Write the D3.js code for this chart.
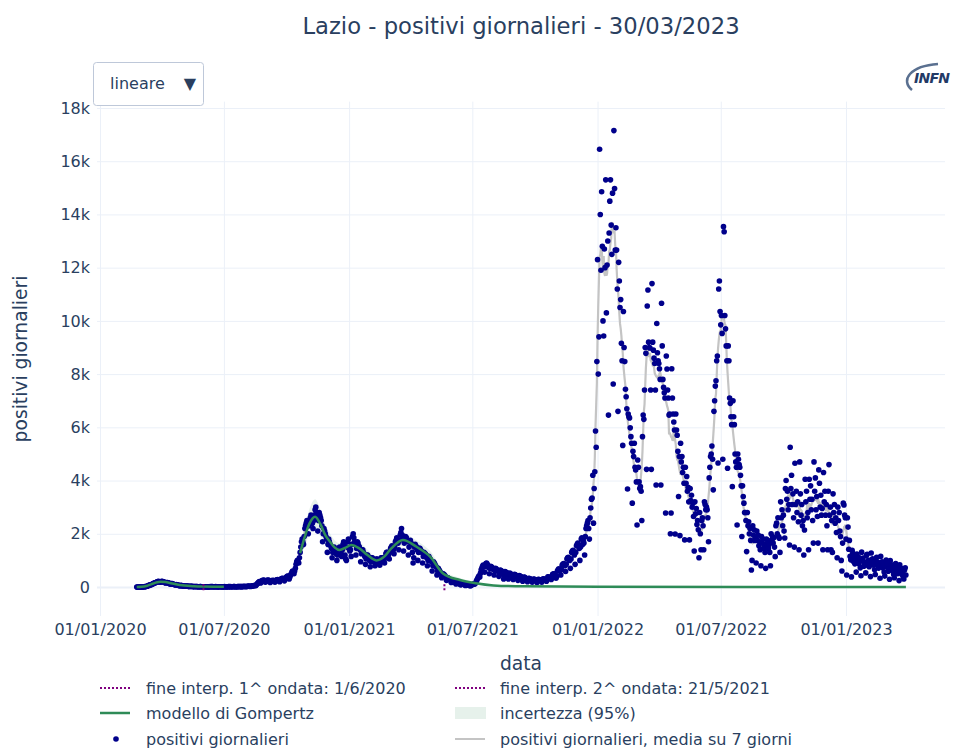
<!DOCTYPE html>
<html><head><meta charset="utf-8">
<script src="https://cdn.jsdelivr.net/npm/d3@7"></script>
<style>body{margin:0;background:#fff}</style>
</head><body>
<svg id="chart" width="954" height="753"></svg>
<script>
// ---------------- DATA ----------------
const startDate = "2020-02-24"; // first day of daily series (Monday)
// daily new positives, one row = one week (Mon..Sun)
const pos2020 = [
0,0,0,0,1,0,3,
4,3,6,10,8,13,15,
20,28,35,52,60,72,80,
85,95,110,125,140,150,160,
170,180,195,200,210,190,185,
180,200,210,205,195,185,175,
150,160,170,165,155,145,135,
115,110,125,130,115,105,95,
85,75,90,85,75,65,60,
50,45,60,55,48,42,38,
32,28,38,40,33,28,24,
22,18,26,30,22,18,16,
15,12,20,20,16,12,11,
10,9,15,13,11,9,8,
7,6,10,9,7,6,5,
6,5,9,12,8,16,13,
9,7,11,9,13,9,7,
6,5,9,11,9,7,6,
7,6,11,13,9,7,6,
9,11,13,15,11,13,9,
11,9,16,13,15,11,9,
11,13,19,16,21,16,13,
13,16,21,19,26,21,16,
16,19,26,31,29,26,21,
26,31,42,47,52,57,47,
60,90,120,150,180,200,170,
150,200,240,230,260,250,210,
180,220,250,240,260,250,220,
170,210,240,230,250,240,220,
180,220,260,270,280,270,250,
200,250,300,320,330,320,290,
230,290,350,370,400,410,380,
300,380,450,500,560,600,580,
500,600,700,850,950,1000,950,
900,1100,1300,1500,1700,1800,1700,
1600,1900,2200,2300,2400,2500,2300,
2000,2300,2500,2600,2700,2600,2400,
2200,2500,2700,2900,3000,2800,2600,
2100,2500,2800,2700,2600,2500,2300,
1700,2000,2200,2100,2000,1900,1800,
1300,1600,1800,1700,1600,1550,1450,
1100,1300,1450,1500,1400,1350,1250,
1000,1200,1400,1450,1500,1400,1300,
1150,1400,1600,1700,1550,1200,1050
];
const pos2021 = [
1000,1500,1700,1800,1450,1350,1400,
1150,1600,1900,2000,1850,1700,1600,
1200,1450,1700,1650,1550,1500,1400,
950,1250,1400,1400,1300,1250,1150,
850,1050,1200,1200,1150,1100,1000,
760,950,1100,1100,1050,1000,950,
800,900,1050,1050,1000,950,900,
820,950,1100,1100,1100,1050,1000,
900,1100,1250,1300,1300,1250,1200,
1050,1300,1450,1500,1550,1500,1400,
1250,1500,1700,1750,1850,1750,1650,
1400,1750,1950,2050,2200,1950,1800,
1350,1650,1800,1900,1850,1750,1700,
1200,1500,1700,1750,1650,1600,1300,
900,1100,1500,1600,1550,1500,1400,
1000,1300,1450,1450,1400,1350,1300,
900,1150,1300,1250,1250,1200,1100,
800,1000,1150,1100,1050,1000,950,
600,800,950,900,850,800,750,
450,600,700,650,600,550,500,
350,420,500,480,450,400,380,
250,300,350,330,300,280,250,
170,220,250,230,200,190,170,
110,140,160,150,140,120,110,
80,100,120,110,100,90,80,
55,70,90,80,80,70,60,
50,60,80,90,100,110,110,
120,160,220,280,330,380,420,
380,520,650,700,780,820,760,
560,780,880,900,850,800,720,
500,700,780,760,730,700,650,
450,620,700,680,650,620,580,
400,560,640,620,600,560,480,
300,400,580,560,540,520,480,
300,440,520,500,480,460,430,
280,400,480,460,440,420,390,
250,350,430,410,390,370,340,
220,300,370,360,340,320,300,
200,260,330,320,300,290,270,
180,240,300,290,280,270,250,
170,230,290,280,270,260,240,
180,250,310,300,290,280,260,
220,300,380,370,360,350,320,
280,380,480,490,500,480,440,
330,400,600,650,680,660,620,
450,650,820,850,880,860,800,
580,850,1050,1100,1120,1080,1000,
700,1050,1300,1350,1380,1320,1200,
850,1300,1550,1600,1650,1550,1450,
1000,1500,1800,1850,1600,1750,1650,
1200,1900,2200,2300,2400,2500,2200,
1800,2600,2970,3300,3340,4200,2400
];
const pos2022 = [
3700,4330,5860,5250,8470,12300,8000,
9400,16450,14000,11900,14850,12800,10000,
9430,12700,12000,15300,10300,12100,13000,
6460,13300,14500,15300,13600,12500,14800,
7630,17150,14970,12660,13500,12660,11200,
6600,12200,11500,10500,10800,9160,8500,
5320,10350,9000,8470,7430,7150,6700,
3680,6500,6400,6350,5980,5650,5400,
3150,5100,4900,5400,4500,4400,3950,
2330,4770,4500,3950,3700,3770,3600,
2500,5650,6460,6300,7400,9000,8780,
4420,10560,11160,9200,9000,8980,7400,
4420,11400,9200,8900,8600,8400,7400,
3830,9900,8800,8500,8400,8200,7800,
3830,10660,9060,7800,7500,7300,7100,
2780,8680,8190,7400,7100,6460,6500,
2000,2780,8200,7100,6500,6200,5900,
1990,6500,5900,5700,5100,3400,4900,
1930,5400,4700,4900,4300,4500,3900,
1770,4500,3900,4150,3600,3750,3200,
1770,3700,3250,3450,3000,3150,2650,
1350,3200,2750,2950,2350,2500,2150,
1100,2800,2000,1400,2500,2600,2300,
1400,3200,3100,2900,3000,2900,2600,
1700,4100,4500,4900,5000,5300,4800,
3650,6600,7000,7550,7750,8500,8680,
4660,11200,11500,10350,9850,10200,9530,
4800,13540,13350,10200,9700,9060,8500,
4460,9060,8500,7100,6900,6400,6100,
3770,7000,6400,6100,5000,4700,4500,
2330,5000,4800,4600,4500,4200,3800,
1900,3800,3400,3150,2800,2800,2500,
1330,2800,2300,2450,2000,2200,1750,
640,1000,2300,1950,2150,1750,1850,
900,2100,1750,1950,1550,1700,1400,
800,1900,1650,1800,1450,1600,1300,
700,1800,1550,1750,1450,1600,1300,
800,2000,1750,1900,1650,1850,1500,
1140,2300,2400,2000,2600,1900,1830,
1300,3200,2600,2900,2300,2700,2100,
1840,3700,4000,3300,3600,2900,3100,
1580,5250,3700,4200,3100,3500,2600,
1500,4650,3100,3600,2800,3200,2450,
1400,4700,3500,2700,3100,2300,2500,
1200,2140,4050,3200,3600,2600,2800,
1400,4050,3300,3800,2900,3300,2500,
1650,4700,3600,4100,2900,3400,2650,
1650,4400,3900,3000,3450,2700,2950,
1400,4300,3200,3600,2700,3100,2300,
1400,3600,4600,2700,3000,1400,2500,
1300,3500,2800,3100,2400,2600,2050,
1100,3000,2500,2800,2100,1900,1000
];
const pos2023 = [
600,1650,3150,3080,2700,2600,1800,
450,2600,2250,1420,1750,1150,1020,
380,1380,1270,960,1150,870,930,
560,1240,1020,1130,870,990,720,
420,1310,980,1090,780,940,810,
530,1190,1230,880,1010,760,850,
390,1280,960,1060,820,900,650,
470,1060,1120,830,930,710,780,
330,1150,870,950,720,820,560,
410,940,1010,740,860,590,680,
290,990,760,830,610,700,470,
350,820,880,640,720,500,560,
240,830,610,700,480,560,380,
300,640,720,450
];
// Gompertz model, 1st wave
const gomp1Dates = ["2020-02-24","2020-03-02","2020-03-09","2020-03-16","2020-03-23","2020-03-30","2020-04-06","2020-04-13","2020-04-20","2020-04-27","2020-05-04","2020-05-18","2020-06-01","2020-06-15","2020-07-01"];
const gomp1Vals  = [0,8,35,100,165,200,185,150,110,78,54,29,16,9,5];
// Gompertz model, 2nd wave (and tail) with 95% band
const gomp2Dates = ["2020-10-21","2020-10-28","2020-11-04","2020-11-12","2020-11-20","2020-11-27","2020-12-04","2020-12-11","2020-12-18","2020-12-27","2021-01-04","2021-01-16","2021-01-28","2021-02-10","2021-02-22","2021-03-04","2021-03-21","2021-04-10","2021-04-30","2021-05-19","2021-06-13","2021-07-06","2021-08-01","2021-09-15","2022-01-01","2023-03-30"];
const gomp2Vals  = [1270,1900,2400,2640,2350,1950,1700,1480,1390,1480,1580,1450,1200,1000,1150,1450,1770,1510,1140,510,260,140,60,25,10,0];
const bandLow    = [1050,1550,1950,2150,1900,1600,1420,1230,1150,1230,1320,1220,1000,850,1000,1260,1550,1300,950,380,190,100,40,12,5,0];
const bandHigh   = [1500,2300,2950,3300,2900,2350,2000,1750,1650,1750,1850,1700,1400,1150,1300,1650,2000,1750,1350,650,340,190,90,40,15,0];
// end of interpolation windows
const fineDates = ["2020-06-01","2021-05-21"];
const yTicks = [0,2000,4000,6000,8000,10000,12000,14000,16000,18000];
const xTicks = ["2020-01-01","2020-07-01","2021-01-01","2021-07-01","2022-01-01","2022-07-01","2023-01-01"];
const legendLabels = ["fine interp. 1^ ondata: 1/6/2020","fine interp. 2^ ondata: 21/5/2021","modello di Gompertz","incertezza (95%)","positivi giornalieri","positivi giornalieri, media su 7 giorni"];

// ---------------- CHART ----------------
const FONT = '"DejaVu Sans", sans-serif';
const TXT = "#2a3f5f", GRID = "#ebf0f8";
const svg = d3.select("#chart").style("font-family", FONT);
const L = 97, R = 945, T = 101.6, B = 616;
const parse = d3.utcParse("%Y-%m-%d");

const xCal = d3.scaleUtc().domain([parse("2020-01-01"), parse("2023-01-01")]).range([100, 846]);
const x = d3.scaleUtc().domain([xCal.invert(L), xCal.invert(R)]).range([L, R]);
const y = d3.scaleLinear().domain([-1090, 18240]).range([B, T]);

const t0 = parse(startDate);
const daily = [].concat(pos2020, pos2021, pos2022, pos2023);
const data = daily.map((v, i) => ({date: d3.utcDay.offset(t0, i), v}));
const avg7 = [];
for (let i = 3; i < data.length - 3; i++) avg7.push({date: data[i].date, v: d3.mean(data.slice(i - 3, i + 4), e => e.v)});

// axes + grid
const fmtY = d => d === 0 ? "0" : (d / 1000) + "k";
const gy = svg.append("g").attr("transform", `translate(${L},0)`)
  .call(d3.axisLeft(y).tickValues(yTicks).tickSize(-(R - L)).tickPadding(7).tickFormat(fmtY));
const gx = svg.append("g").attr("transform", `translate(0,${B})`)
  .call(d3.axisBottom(x).tickValues(xTicks.map(parse)).tickSize(-(B - T)).tickPadding(8).tickFormat(d3.utcFormat("%d/%m/%Y")));
[gx, gy].forEach(g => {
  g.select(".domain").remove();
  g.selectAll(".tick line").attr("stroke", GRID).attr("stroke-width", 1);
  g.selectAll(".tick text").attr("fill", TXT).attr("font-size", 16).attr("font-family", FONT);
});
gy.selectAll(".tick").filter(d => d === 0).select("line").attr("stroke-width", 2);

svg.append("clipPath").attr("id", "clip").append("rect").attr("x", L).attr("y", T).attr("width", R - L).attr("height", B - T);
const plot = svg.append("g").attr("clip-path", "url(#clip)");

// uncertainty band
const bandData = gomp2Dates.map((d, i) => ({date: parse(d), lo: bandLow[i], hi: bandHigh[i]}));
plot.append("path").datum(bandData)
  .attr("d", d3.area().x(d => x(d.date)).y0(d => y(d.lo)).y1(d => y(d.hi)).curve(d3.curveMonotoneX))
  .attr("fill", "rgba(46,139,87,0.12)");

// 7-day mean
plot.append("path").datum(avg7)
  .attr("d", d3.line().x(d => x(d.date)).y(d => y(d.v)))
  .attr("fill", "none").attr("stroke", "#c4c4c4").attr("stroke-width", 2.2);

// daily dots
plot.append("g").selectAll("circle").data(data).join("circle")
  .attr("cx", d => x(d.date)).attr("cy", d => y(d.v)).attr("r", 2.8).attr("fill", "#00008b");

// Gompertz lines
const gLine = d3.line().x(d => x(d.date)).y(d => y(d.v)).curve(d3.curveMonotoneX);
[[gomp1Dates, gomp1Vals], [gomp2Dates, gomp2Vals]].forEach(([ds, vs]) => {
  plot.append("path").datum(ds.map((d, i) => ({date: parse(d), v: vs[i]})))
    .attr("d", gLine).attr("fill", "none").attr("stroke", "#2e8b57").attr("stroke-width", 2.5);
});

// end-of-interpolation markers
fineDates.forEach(d => {
  plot.append("line").attr("x1", x(parse(d))).attr("x2", x(parse(d)))
    .attr("y1", y(-120)).attr("y2", y(180))
    .attr("stroke", "#800080").attr("stroke-width", 2).attr("stroke-dasharray", "2,2");
});

// titles
svg.append("text").attr("x", 521).attr("y", 26).attr("dy", "0.35em").attr("text-anchor", "middle")
  .attr("font-size", 22.7).attr("fill", TXT).text("Lazio - positivi giornalieri - 30/03/2023");
svg.append("text").attr("x", 521).attr("y", 663).attr("dy", "0.35em").attr("text-anchor", "middle")
  .attr("font-size", 18.7).attr("fill", TXT).text("data");
svg.append("text").attr("transform", "translate(20,359) rotate(-90)").attr("dy", "0.35em").attr("text-anchor", "middle")
  .attr("font-size", 18.7).attr("fill", TXT).text("positivi giornalieri");

// dropdown
const dd = svg.append("g");
dd.append("rect").attr("x", 93.5).attr("y", 62.5).attr("width", 110).attr("height", 43).attr("rx", 3)
  .attr("fill", "#fff").attr("stroke", "#bec8d9");
dd.append("text").attr("x", 110).attr("y", 83).attr("dy", "0.35em").attr("font-size", 16).attr("fill", TXT).text("lineare");
dd.append("text").attr("x", 190).attr("y", 83).attr("dy", "0.35em").attr("text-anchor", "middle").attr("font-size", 16).attr("fill", TXT).text("▼");

// INFN logo
const logo = svg.append("g");
logo.append("path").attr("d", "M912,90 C900,80 910,66 938,64").attr("fill", "none").attr("stroke", "#5a7090").attr("stroke-width", 2.5);
logo.append("text").attr("x", 914).attr("y", 78).attr("dy", "0.35em").attr("font-size", 14).attr("font-style", "italic")
  .attr("font-weight", "bold").attr("fill", "#233a66").attr("textLength", 36).text("INFN");

// legend
const lg = svg.append("g");
const rows = [688, 713, 739], cols = [{s: 100, t: 146}, {s: 455, t: 500}];
const items = [
  {c: 0, r: 0, type: "dot"}, {c: 1, r: 0, type: "dot"},
  {c: 0, r: 1, type: "green"}, {c: 1, r: 1, type: "band"},
  {c: 0, r: 2, type: "marker"}, {c: 1, r: 2, type: "gray"}
];
items.forEach((it, i) => {
  const sx = cols[it.c].s, yy = rows[it.r];
  if (it.type === "dot") lg.append("line").attr("x1", sx).attr("x2", sx + 30).attr("y1", yy).attr("y2", yy)
    .attr("stroke", "#800080").attr("stroke-width", 2).attr("stroke-dasharray", "2,2");
  if (it.type === "green") lg.append("line").attr("x1", sx).attr("x2", sx + 30).attr("y1", yy).attr("y2", yy)
    .attr("stroke", "#2e8b57").attr("stroke-width", 2.5);
  if (it.type === "gray") lg.append("line").attr("x1", sx).attr("x2", sx + 30).attr("y1", yy).attr("y2", yy)
    .attr("stroke", "#c4c4c4").attr("stroke-width", 2);
  if (it.type === "band") lg.append("rect").attr("x", sx).attr("y", yy - 6).attr("width", 31).attr("height", 12)
    .attr("fill", "rgba(46,139,87,0.12)");
  if (it.type === "marker") lg.append("circle").attr("cx", sx + 16).attr("cy", yy).attr("r", 2.8).attr("fill", "#00008b");
  lg.append("text").attr("x", cols[it.c].t).attr("y", yy).attr("dy", "0.35em").attr("font-size", 16)
    .attr("fill", TXT).text(legendLabels[i]);
});
</script>
</body></html>
